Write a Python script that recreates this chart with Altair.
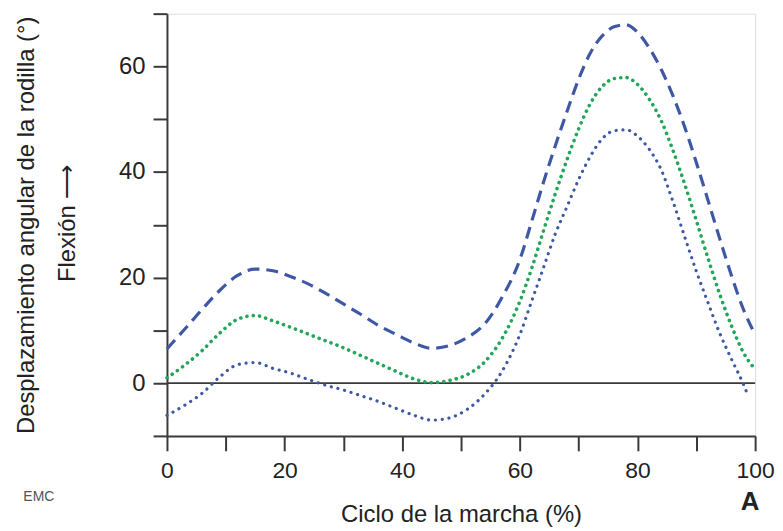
import altair as alt
import pandas as pd

# Gait cycle (%) sample positions
cycle_pct = [0, 3, 6, 9, 12, 15, 18, 21, 24, 27, 30, 33, 36, 39, 42, 45, 48, 51, 54, 57,
             60, 62, 64, 66, 68, 70, 72, 74, 76, 78, 80, 82, 84, 86, 88, 90, 92, 94, 96, 98, 100]

# Upper curve (dashed blue)
upper_deg = [6.5, 10.2, 14.0, 17.6, 20.4, 21.6, 21.3, 20.2, 18.8, 17.0, 15.0, 13.0, 10.9, 9.2, 7.6, 6.6,
             7.1, 8.6, 11.2, 16.3, 23.4, 30.6, 38.0, 44.9, 51.4, 57.6, 62.6, 65.8, 67.5, 67.9, 66.5, 63.5,
             59.5, 54.5, 48.6, 41.8, 34.6, 27.3, 20.3, 14.0, 9.2]

# Middle curve (dotted green)
middle_deg = [1.0, 3.4, 6.2, 9.5, 12.1, 12.8, 11.8, 10.6, 9.3, 8.0, 6.7, 5.2, 3.7, 2.2, 0.8, 0.1,
              0.5, 1.6, 4.0, 8.5, 15.5, 21.7, 28.8, 35.8, 42.3, 48.2, 53.0, 56.2, 57.7, 57.9, 56.6, 53.8,
              49.8, 44.2, 37.8, 30.8, 23.6, 16.8, 10.8, 5.8, 2.6]

# Lower curve (dotted blue) ends just before 100 %
lower_pct = [0, 3, 6, 9, 12, 15, 18, 21, 24, 27, 30, 33, 36, 39, 42, 45, 48, 51, 54, 57,
             60, 62, 64, 66, 68, 70, 72, 74, 76, 78, 80, 82, 84, 86, 88, 90, 92, 94, 96, 98, 98.8]
lower_deg = [-6.1, -4.2, -1.9, 1.2, 3.5, 3.9, 2.8, 1.9, 0.7, -0.4, -1.3, -2.4, -3.5, -4.8, -6.1, -7.0,
             -6.6, -5.0, -2.1, 2.3, 9.2, 15.5, 21.8, 28.2, 33.4, 38.6, 43.0, 46.3, 47.8, 48.0, 46.8, 44.3,
             40.5, 34.5, 27.8, 21.2, 15.2, 9.4, 4.5, -0.2, -2.4]

x_ticks = list(range(0, 101, 10))
y_ticks = list(range(-10, 71, 10))

W, H = 592, 425
FONT = "Liberation Sans"
AXIS_COLOR = "#3a3a3a"
BLUE = "#3f58a6"
GREEN = "#22a65a"

df_up = pd.DataFrame({"x": cycle_pct, "y": upper_deg})
df_mid = pd.DataFrame({"x": cycle_pct, "y": middle_deg})
df_low = pd.DataFrame({"x": lower_pct, "y": lower_deg})

xs = alt.Scale(domain=[0, 100], nice=False, zero=False)
ys = alt.Scale(domain=[-10, 70], nice=False, zero=False)

x_axis = alt.Axis(
    values=x_ticks,
    labelExpr="datum.value % 20 == 0 ? datum.label : ''",
    labelFlush=False, labelOverlap=False,
    tickSize=15, tickWidth=2, domainWidth=2, tickColor=AXIS_COLOR, domainColor=AXIS_COLOR,
    labelFontSize=23, labelPadding=9, labelColor="#222", labelFont=FONT,
    grid=False,
    title="Ciclo de la marcha (%)", titleFontSize=24, titleFontWeight="normal",
    titleFont=FONT, titleColor="#222", titleY=79, titleBaseline="middle",
)
y_axis = alt.Axis(
    values=y_ticks,
    labelExpr="datum.value % 20 == 0 ? datum.label : ''",
    labelFlush=False, labelOverlap=False,
    tickSize=14, tickWidth=2, domainWidth=2, tickColor=AXIS_COLOR, domainColor=AXIS_COLOR,
    labelFontSize=24, labelPadding=8, labelColor="#222", labelFont=FONT,
    grid=False,
    title="Desplazamiento angular de la rodilla (°)", titleFontSize=24, titleFontWeight="normal",
    titleFont=FONT, titleColor="#222", titleX=-141, titleY=H / 2, titleAngle=270,
    titleBaseline="middle", titleAlign="center",
)

zero_rule = alt.Chart(pd.DataFrame({"y": [0]})).mark_rule(color=AXIS_COLOR, strokeWidth=1.6).encode(
    y=alt.Y("y:Q", scale=ys, axis=y_axis)
)

up_line = alt.Chart(df_up).mark_line(
    color=BLUE, strokeWidth=3.2, strokeDash=[12, 7], interpolate="monotone"
).encode(x=alt.X("x:Q", scale=xs, axis=x_axis), y=alt.Y("y:Q", scale=ys, axis=y_axis))

mid_line = alt.Chart(df_mid).mark_line(
    color=GREEN, strokeWidth=3.6, strokeDash=[0.1, 6.3], strokeCap="round", interpolate="monotone"
).encode(x=alt.X("x:Q", scale=xs), y=alt.Y("y:Q", scale=ys))

low_line = alt.Chart(df_low).mark_line(
    color=BLUE, strokeWidth=3.2, strokeDash=[0.1, 6.8], strokeCap="round", interpolate="monotone"
).encode(x=alt.X("x:Q", scale=xs), y=alt.Y("y:Q", scale=ys))

one = pd.DataFrame({"t": [0]})
flexion = alt.Chart(one).mark_text(
    text="Flexión ⟶", angle=270, fontSize=24, font=FONT, color="#222", align="center", baseline="middle"
).encode(x=alt.value(-100), y=alt.value(211))

panel_a = alt.Chart(one).mark_text(
    text="A", fontSize=26, fontWeight="bold", font=FONT, color="#222", align="center", baseline="middle"
).encode(x=alt.value(587), y=alt.value(492))

emc = alt.Chart(one).mark_text(
    text="EMC", fontSize=14, font=FONT, color="#555", align="center", baseline="middle"
).encode(x=alt.value(-129), y=alt.value(487))

chart = alt.layer(zero_rule, up_line, mid_line, low_line, flexion, panel_a, emc).properties(
    width=W, height=H,
    autosize=alt.AutoSizeParams(type="none"),
    padding={"left": 160, "top": 4, "right": 20, "bottom": 90},
).configure_view(stroke=None).configure(background="white")

chart.save("out.html", embed_options={"renderer": "svg", "actions": False})
